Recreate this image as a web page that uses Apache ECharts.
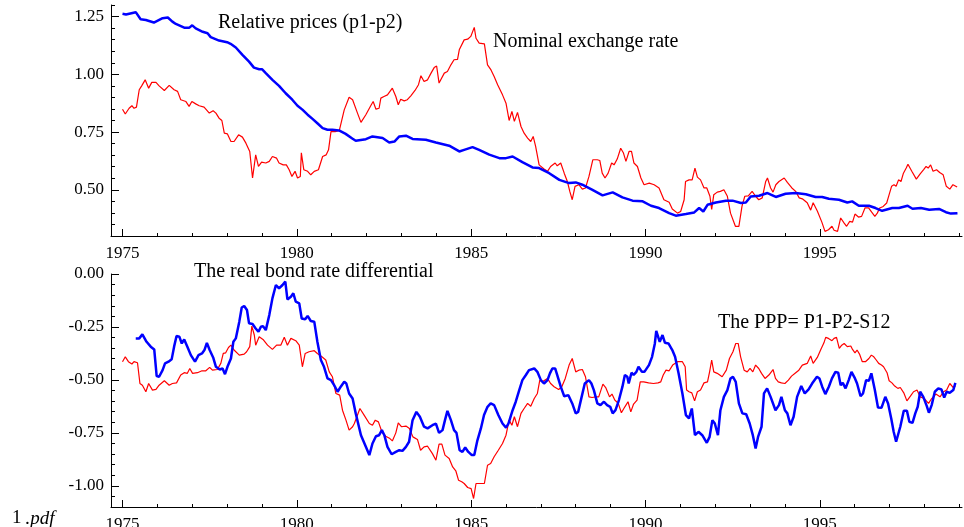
<!DOCTYPE html>
<html>
<head>
<meta charset="utf-8">
<script src="https://cdn.jsdelivr.net/npm/echarts@6/dist/echarts.min.js"></script>
<style>
html,body{margin:0;padding:0;background:#fff;}
#chart{width:964px;height:527px;}
</style>
</head>
<body>
<div id="chart"></div>
<script>
// ---- tick labels ----
var majorYears = [1975, 1980, 1985, 1990, 1995];
var topYLabels = [0.50, 0.75, 1.00, 1.25];
var botYLabels = [-1.00, -0.75, -0.50, -0.25, 0.00];

// ---- series: [year, value] ----
var relPrices = [[1975.00,1.262],[1975.10,1.259],[1975.38,1.269],[1975.52,1.238],[1975.67,1.235],[1975.90,1.224],[1976.15,1.243],[1976.30,1.246],[1976.43,1.228],[1976.53,1.218],[1976.77,1.202],[1976.91,1.201],[1977.00,1.212],[1977.10,1.199],[1977.30,1.184],[1977.44,1.178],[1977.53,1.161],[1977.77,1.146],[1978.00,1.139],[1978.10,1.132],[1978.25,1.116],[1978.44,1.084],[1978.63,1.055],[1978.77,1.029],[1978.92,1.022],[1979.00,1.022],[1979.11,1.005],[1979.30,0.976],[1979.49,0.950],[1979.68,0.918],[1979.87,0.890],[1980.02,0.864],[1980.16,0.847],[1980.31,0.825],[1980.45,0.807],[1980.59,0.788],[1980.74,0.767],[1980.88,0.760],[1981.02,0.760],[1981.21,0.757],[1981.40,0.742],[1981.59,0.722],[1981.69,0.712],[1981.98,0.719],[1982.17,0.731],[1982.46,0.724],[1982.65,0.705],[1982.80,0.709],[1982.94,0.731],[1983.13,0.734],[1983.32,0.720],[1983.70,0.717],[1983.99,0.705],[1984.37,0.691],[1984.66,0.666],[1984.80,0.673],[1985.04,0.685],[1985.23,0.673],[1985.52,0.652],[1985.81,0.637],[1986.00,0.637],[1986.19,0.644],[1986.47,0.620],[1986.76,0.597],[1986.95,0.594],[1987.24,0.572],[1987.53,0.543],[1987.81,0.529],[1988.00,0.532],[1988.19,0.522],[1988.48,0.500],[1988.77,0.476],[1989.06,0.489],[1989.34,0.467],[1989.63,0.453],[1989.92,0.450],[1990.16,0.431],[1990.39,0.421],[1990.68,0.399],[1990.87,0.388],[1991.16,0.395],[1991.40,0.402],[1991.54,0.421],[1991.66,0.406],[1991.78,0.435],[1992.02,0.445],[1992.31,0.453],[1992.50,0.453],[1992.74,0.443],[1992.88,0.445],[1993.02,0.471],[1993.26,0.474],[1993.50,0.486],[1993.74,0.469],[1994.02,0.483],[1994.31,0.486],[1994.60,0.481],[1994.88,0.469],[1995.07,0.469],[1995.26,0.461],[1995.55,0.457],[1995.79,0.445],[1995.93,0.450],[1996.12,0.431],[1996.41,0.431],[1996.60,0.421],[1996.79,0.409],[1997.08,0.421],[1997.27,0.421],[1997.52,0.431],[1997.66,0.418],[1997.90,0.421],[1998.14,0.414],[1998.42,0.417],[1998.62,0.403],[1998.76,0.397],[1998.95,0.399]];

var nominalRate = [[1975.00,0.849],[1975.08,0.828],[1975.19,0.853],[1975.27,0.864],[1975.33,0.853],[1975.40,0.858],[1975.48,0.933],[1975.55,0.950],[1975.65,0.976],[1975.75,0.940],[1975.84,0.965],[1975.96,0.965],[1976.05,0.950],[1976.20,0.930],[1976.34,0.952],[1976.48,0.933],[1976.58,0.926],[1976.67,0.890],[1976.82,0.882],[1976.91,0.861],[1976.99,0.882],[1977.10,0.872],[1977.20,0.864],[1977.34,0.858],[1977.49,0.832],[1977.60,0.842],[1977.68,0.832],[1977.77,0.810],[1977.85,0.800],[1977.92,0.745],[1978.01,0.742],[1978.11,0.709],[1978.20,0.709],[1978.33,0.738],[1978.44,0.728],[1978.54,0.702],[1978.65,0.666],[1978.73,0.551],[1978.82,0.651],[1978.90,0.601],[1978.99,0.620],[1979.11,0.616],[1979.21,0.623],[1979.30,0.644],[1979.42,0.637],[1979.49,0.616],[1979.61,0.608],[1979.70,0.608],[1979.78,0.587],[1979.86,0.558],[1979.95,0.580],[1980.02,0.551],[1980.10,0.558],[1980.13,0.660],[1980.20,0.587],[1980.31,0.580],[1980.40,0.565],[1980.50,0.580],[1980.62,0.587],[1980.74,0.644],[1980.84,0.651],[1980.91,0.673],[1980.98,0.752],[1981.10,0.752],[1981.15,0.745],[1981.22,0.757],[1981.36,0.846],[1981.50,0.901],[1981.60,0.890],[1981.74,0.832],[1981.84,0.792],[1981.98,0.825],[1982.12,0.864],[1982.19,0.882],[1982.27,0.849],[1982.36,0.853],[1982.41,0.897],[1982.50,0.904],[1982.60,0.911],[1982.74,0.940],[1982.84,0.904],[1982.91,0.868],[1982.98,0.892],[1983.08,0.885],[1983.17,0.890],[1983.27,0.907],[1983.39,0.930],[1983.49,0.955],[1983.56,0.994],[1983.65,0.969],[1983.75,0.976],[1983.85,1.005],[1983.94,1.029],[1984.01,1.036],[1984.08,0.962],[1984.23,1.005],[1984.32,1.012],[1984.42,1.041],[1984.51,1.063],[1984.61,1.065],[1984.66,1.106],[1984.80,1.149],[1984.90,1.152],[1984.99,1.164],[1985.09,1.203],[1985.14,1.156],[1985.23,1.135],[1985.38,1.132],[1985.47,1.041],[1985.57,1.019],[1985.66,0.990],[1985.76,0.955],[1985.90,0.911],[1986.00,0.875],[1986.09,0.800],[1986.17,0.839],[1986.24,0.796],[1986.33,0.835],[1986.43,0.774],[1986.52,0.745],[1986.62,0.724],[1986.71,0.709],[1986.78,0.731],[1986.85,0.688],[1986.95,0.608],[1987.00,0.601],[1987.09,0.590],[1987.19,0.580],[1987.28,0.601],[1987.41,0.616],[1987.47,0.604],[1987.57,0.616],[1987.67,0.572],[1987.76,0.536],[1987.83,0.493],[1987.90,0.457],[1987.98,0.515],[1988.09,0.522],[1988.19,0.503],[1988.28,0.508],[1988.38,0.558],[1988.49,0.630],[1988.62,0.630],[1988.69,0.627],[1988.76,0.572],[1988.84,0.551],[1988.93,0.572],[1989.03,0.616],[1989.10,0.608],[1989.19,0.633],[1989.29,0.680],[1989.37,0.659],[1989.44,0.623],[1989.53,0.666],[1989.60,0.666],[1989.67,0.616],[1989.77,0.601],[1989.87,0.551],[1989.96,0.522],[1990.11,0.529],[1990.25,0.522],[1990.39,0.508],[1990.53,0.457],[1990.68,0.446],[1990.77,0.417],[1990.92,0.399],[1991.01,0.406],[1991.11,0.457],[1991.15,0.536],[1991.25,0.543],[1991.34,0.543],[1991.42,0.594],[1991.49,0.555],[1991.58,0.543],[1991.68,0.508],[1991.76,0.508],[1991.85,0.472],[1991.90,0.415],[1991.96,0.479],[1992.06,0.490],[1992.15,0.493],[1992.25,0.500],[1992.35,0.472],[1992.44,0.399],[1992.58,0.342],[1992.68,0.342],[1992.77,0.429],[1992.85,0.472],[1992.95,0.474],[1993.06,0.493],[1993.16,0.472],[1993.25,0.457],[1993.35,0.465],[1993.45,0.536],[1993.50,0.551],[1993.59,0.508],[1993.66,0.490],[1993.74,0.522],[1993.83,0.536],[1993.98,0.551],[1994.07,0.532],[1994.20,0.508],[1994.31,0.493],[1994.41,0.465],[1994.50,0.461],[1994.64,0.444],[1994.74,0.412],[1994.81,0.444],[1994.93,0.408],[1995.06,0.360],[1995.15,0.320],[1995.25,0.327],[1995.35,0.342],[1995.41,0.325],[1995.51,0.320],[1995.60,0.378],[1995.70,0.356],[1995.77,0.342],[1995.86,0.363],[1995.94,0.360],[1996.01,0.395],[1996.11,0.382],[1996.20,0.385],[1996.30,0.422],[1996.40,0.422],[1996.49,0.403],[1996.58,0.385],[1996.65,0.399],[1996.72,0.421],[1996.82,0.428],[1996.92,0.443],[1996.99,0.479],[1997.06,0.515],[1997.13,0.522],[1997.19,0.515],[1997.26,0.543],[1997.33,0.536],[1997.40,0.572],[1997.48,0.594],[1997.53,0.611],[1997.64,0.580],[1997.77,0.546],[1997.88,0.569],[1997.98,0.587],[1998.05,0.601],[1998.11,0.594],[1998.18,0.608],[1998.25,0.580],[1998.35,0.587],[1998.44,0.575],[1998.54,0.565],[1998.63,0.515],[1998.73,0.503],[1998.82,0.522],[1998.94,0.512]];

var bondDiff = [[1975.38,-0.304],[1975.48,-0.304],[1975.57,-0.285],[1975.69,-0.320],[1975.81,-0.343],[1975.91,-0.356],[1975.98,-0.482],[1976.05,-0.485],[1976.15,-0.454],[1976.22,-0.422],[1976.32,-0.414],[1976.41,-0.403],[1976.48,-0.343],[1976.55,-0.293],[1976.63,-0.296],[1976.70,-0.328],[1976.77,-0.309],[1976.86,-0.343],[1976.96,-0.383],[1977.08,-0.414],[1977.18,-0.383],[1977.28,-0.375],[1977.35,-0.359],[1977.42,-0.325],[1977.50,-0.359],[1977.60,-0.394],[1977.68,-0.438],[1977.79,-0.451],[1977.87,-0.446],[1977.94,-0.473],[1978.01,-0.438],[1978.11,-0.399],[1978.18,-0.320],[1978.25,-0.304],[1978.35,-0.225],[1978.42,-0.158],[1978.49,-0.151],[1978.57,-0.170],[1978.63,-0.233],[1978.73,-0.236],[1978.82,-0.257],[1978.90,-0.273],[1978.97,-0.249],[1979.03,-0.246],[1979.11,-0.265],[1979.21,-0.194],[1979.30,-0.115],[1979.40,-0.052],[1979.49,-0.068],[1979.59,-0.052],[1979.67,-0.036],[1979.73,-0.120],[1979.83,-0.107],[1979.90,-0.091],[1979.97,-0.131],[1980.07,-0.139],[1980.14,-0.210],[1980.24,-0.214],[1980.31,-0.198],[1980.40,-0.222],[1980.50,-0.225],[1980.59,-0.320],[1980.69,-0.406],[1980.78,-0.438],[1980.88,-0.493],[1980.98,-0.501],[1981.07,-0.525],[1981.17,-0.556],[1981.26,-0.532],[1981.36,-0.509],[1981.42,-0.517],[1981.50,-0.564],[1981.60,-0.588],[1981.69,-0.658],[1981.84,-0.761],[1981.98,-0.816],[1982.08,-0.855],[1982.17,-0.800],[1982.27,-0.766],[1982.36,-0.761],[1982.44,-0.737],[1982.51,-0.761],[1982.60,-0.816],[1982.72,-0.851],[1982.84,-0.840],[1982.94,-0.832],[1983.03,-0.835],[1983.13,-0.816],[1983.22,-0.792],[1983.32,-0.690],[1983.43,-0.651],[1983.53,-0.674],[1983.65,-0.721],[1983.75,-0.729],[1983.89,-0.714],[1983.99,-0.706],[1984.08,-0.750],[1984.18,-0.737],[1984.25,-0.690],[1984.32,-0.646],[1984.42,-0.690],[1984.51,-0.737],[1984.58,-0.750],[1984.67,-0.832],[1984.75,-0.840],[1984.83,-0.819],[1984.92,-0.840],[1985.02,-0.855],[1985.09,-0.855],[1985.18,-0.785],[1985.28,-0.729],[1985.37,-0.666],[1985.47,-0.627],[1985.56,-0.611],[1985.66,-0.619],[1985.78,-0.666],[1985.90,-0.706],[1986.00,-0.725],[1986.07,-0.706],[1986.19,-0.643],[1986.28,-0.603],[1986.38,-0.548],[1986.47,-0.501],[1986.57,-0.477],[1986.66,-0.454],[1986.81,-0.446],[1986.90,-0.462],[1987.00,-0.501],[1987.09,-0.517],[1987.19,-0.501],[1987.26,-0.469],[1987.33,-0.446],[1987.41,-0.446],[1987.47,-0.477],[1987.57,-0.532],[1987.67,-0.577],[1987.79,-0.572],[1987.90,-0.611],[1988.00,-0.658],[1988.07,-0.651],[1988.17,-0.580],[1988.26,-0.517],[1988.38,-0.501],[1988.45,-0.517],[1988.52,-0.548],[1988.62,-0.611],[1988.71,-0.619],[1988.81,-0.603],[1988.90,-0.619],[1988.99,-0.627],[1989.06,-0.658],[1989.14,-0.643],[1989.24,-0.595],[1989.34,-0.532],[1989.41,-0.477],[1989.48,-0.485],[1989.52,-0.517],[1989.60,-0.466],[1989.66,-0.477],[1989.74,-0.462],[1989.80,-0.438],[1989.90,-0.462],[1989.97,-0.462],[1990.10,-0.430],[1990.19,-0.391],[1990.27,-0.328],[1990.31,-0.268],[1990.41,-0.320],[1990.49,-0.288],[1990.56,-0.325],[1990.66,-0.328],[1990.77,-0.359],[1990.85,-0.391],[1990.95,-0.469],[1991.06,-0.564],[1991.16,-0.666],[1991.25,-0.682],[1991.33,-0.635],[1991.42,-0.761],[1991.52,-0.745],[1991.63,-0.761],[1991.76,-0.797],[1991.84,-0.769],[1991.92,-0.690],[1991.99,-0.706],[1992.08,-0.761],[1992.15,-0.643],[1992.25,-0.580],[1992.35,-0.548],[1992.44,-0.493],[1992.51,-0.485],[1992.59,-0.509],[1992.68,-0.611],[1992.78,-0.658],[1992.89,-0.662],[1992.99,-0.706],[1993.08,-0.761],[1993.16,-0.824],[1993.23,-0.769],[1993.33,-0.721],[1993.40,-0.564],[1993.49,-0.540],[1993.59,-0.580],[1993.73,-0.643],[1993.83,-0.619],[1993.90,-0.580],[1994.00,-0.643],[1994.07,-0.658],[1994.16,-0.714],[1994.25,-0.674],[1994.35,-0.580],[1994.47,-0.529],[1994.57,-0.564],[1994.68,-0.545],[1994.78,-0.517],[1994.92,-0.485],[1994.99,-0.493],[1995.07,-0.532],[1995.16,-0.567],[1995.26,-0.532],[1995.35,-0.493],[1995.45,-0.462],[1995.53,-0.466],[1995.60,-0.525],[1995.66,-0.514],[1995.74,-0.540],[1995.83,-0.501],[1995.91,-0.462],[1996.01,-0.493],[1996.07,-0.517],[1996.17,-0.577],[1996.24,-0.564],[1996.33,-0.501],[1996.41,-0.504],[1996.48,-0.469],[1996.58,-0.548],[1996.67,-0.630],[1996.77,-0.632],[1996.88,-0.580],[1996.96,-0.611],[1997.05,-0.682],[1997.12,-0.745],[1997.19,-0.792],[1997.24,-0.800],[1997.31,-0.721],[1997.41,-0.646],[1997.50,-0.646],[1997.57,-0.698],[1997.66,-0.703],[1997.74,-0.658],[1997.81,-0.627],[1997.88,-0.556],[1997.97,-0.580],[1998.07,-0.624],[1998.13,-0.655],[1998.21,-0.619],[1998.30,-0.556],[1998.40,-0.540],[1998.49,-0.545],[1998.57,-0.583],[1998.64,-0.556],[1998.73,-0.561],[1998.83,-0.548],[1998.89,-0.514]];

var pppGap = [[1975.00,-0.414],[1975.08,-0.391],[1975.17,-0.414],[1975.27,-0.425],[1975.33,-0.414],[1975.43,-0.419],[1975.50,-0.517],[1975.57,-0.525],[1975.67,-0.556],[1975.75,-0.517],[1975.86,-0.548],[1975.96,-0.545],[1976.05,-0.525],[1976.20,-0.504],[1976.24,-0.501],[1976.34,-0.525],[1976.43,-0.517],[1976.55,-0.514],[1976.67,-0.477],[1976.77,-0.466],[1976.86,-0.469],[1976.93,-0.446],[1977.01,-0.469],[1977.15,-0.466],[1977.28,-0.457],[1977.39,-0.457],[1977.50,-0.441],[1977.58,-0.454],[1977.72,-0.451],[1977.82,-0.422],[1977.89,-0.375],[1977.96,-0.372],[1978.04,-0.347],[1978.11,-0.336],[1978.20,-0.359],[1978.35,-0.383],[1978.49,-0.378],[1978.56,-0.367],[1978.65,-0.343],[1978.71,-0.246],[1978.78,-0.288],[1978.82,-0.336],[1978.92,-0.296],[1979.03,-0.309],[1979.16,-0.336],[1979.30,-0.356],[1979.42,-0.336],[1979.54,-0.336],[1979.64,-0.299],[1979.73,-0.336],[1979.83,-0.304],[1979.97,-0.315],[1980.07,-0.336],[1980.16,-0.438],[1980.24,-0.375],[1980.35,-0.367],[1980.50,-0.362],[1980.59,-0.375],[1980.72,-0.391],[1980.83,-0.406],[1980.93,-0.462],[1981.02,-0.485],[1981.12,-0.564],[1981.23,-0.572],[1981.31,-0.643],[1981.41,-0.690],[1981.50,-0.737],[1981.60,-0.721],[1981.65,-0.706],[1981.81,-0.635],[1981.93,-0.666],[1982.08,-0.706],[1982.17,-0.714],[1982.25,-0.690],[1982.34,-0.698],[1982.44,-0.745],[1982.55,-0.766],[1982.67,-0.777],[1982.74,-0.788],[1982.84,-0.750],[1982.91,-0.703],[1983.00,-0.721],[1983.13,-0.718],[1983.23,-0.729],[1983.33,-0.769],[1983.46,-0.781],[1983.55,-0.832],[1983.65,-0.816],[1983.75,-0.813],[1983.89,-0.848],[1983.99,-0.879],[1984.08,-0.803],[1984.16,-0.803],[1984.25,-0.855],[1984.37,-0.871],[1984.47,-0.911],[1984.56,-0.929],[1984.64,-0.974],[1984.73,-0.981],[1984.80,-0.989],[1984.90,-1.008],[1985.00,-1.013],[1985.07,-1.060],[1985.14,-0.989],[1985.23,-0.989],[1985.38,-0.989],[1985.47,-0.903],[1985.56,-0.895],[1985.66,-0.863],[1985.78,-0.832],[1985.90,-0.800],[1986.00,-0.761],[1986.09,-0.690],[1986.17,-0.714],[1986.24,-0.674],[1986.33,-0.721],[1986.43,-0.658],[1986.52,-0.635],[1986.62,-0.611],[1986.71,-0.624],[1986.81,-0.588],[1986.90,-0.564],[1986.97,-0.501],[1987.04,-0.509],[1987.19,-0.493],[1987.28,-0.517],[1987.38,-0.532],[1987.51,-0.545],[1987.60,-0.532],[1987.70,-0.493],[1987.81,-0.430],[1987.90,-0.399],[1988.00,-0.462],[1988.09,-0.454],[1988.19,-0.451],[1988.28,-0.485],[1988.38,-0.580],[1988.47,-0.583],[1988.57,-0.580],[1988.66,-0.580],[1988.78,-0.520],[1988.86,-0.536],[1988.97,-0.580],[1989.04,-0.567],[1989.12,-0.595],[1989.22,-0.611],[1989.31,-0.655],[1989.41,-0.627],[1989.50,-0.603],[1989.58,-0.651],[1989.66,-0.614],[1989.76,-0.595],[1989.85,-0.509],[1989.95,-0.509],[1990.09,-0.514],[1990.23,-0.517],[1990.36,-0.514],[1990.44,-0.509],[1990.51,-0.477],[1990.59,-0.454],[1990.68,-0.457],[1990.78,-0.430],[1990.92,-0.414],[1991.06,-0.414],[1991.14,-0.438],[1991.18,-0.548],[1991.25,-0.556],[1991.33,-0.561],[1991.41,-0.599],[1991.49,-0.556],[1991.58,-0.548],[1991.68,-0.514],[1991.78,-0.509],[1991.84,-0.462],[1991.90,-0.406],[1991.96,-0.462],[1992.06,-0.469],[1992.20,-0.485],[1992.32,-0.454],[1992.41,-0.399],[1992.51,-0.367],[1992.59,-0.328],[1992.66,-0.328],[1992.73,-0.391],[1992.83,-0.454],[1992.92,-0.462],[1993.00,-0.446],[1993.08,-0.462],[1993.16,-0.430],[1993.25,-0.446],[1993.33,-0.469],[1993.43,-0.493],[1993.54,-0.477],[1993.66,-0.451],[1993.73,-0.493],[1993.81,-0.509],[1993.90,-0.514],[1994.00,-0.517],[1994.10,-0.501],[1994.19,-0.482],[1994.31,-0.466],[1994.40,-0.454],[1994.50,-0.430],[1994.64,-0.422],[1994.74,-0.387],[1994.81,-0.422],[1994.93,-0.394],[1995.03,-0.356],[1995.12,-0.325],[1995.17,-0.299],[1995.25,-0.304],[1995.35,-0.315],[1995.41,-0.304],[1995.48,-0.299],[1995.56,-0.351],[1995.63,-0.336],[1995.70,-0.328],[1995.79,-0.343],[1995.89,-0.340],[1995.94,-0.356],[1996.01,-0.372],[1996.07,-0.359],[1996.14,-0.378],[1996.22,-0.414],[1996.31,-0.414],[1996.41,-0.399],[1996.48,-0.383],[1996.55,-0.391],[1996.62,-0.406],[1996.69,-0.422],[1996.77,-0.430],[1996.83,-0.438],[1996.93,-0.466],[1996.99,-0.504],[1997.07,-0.514],[1997.15,-0.529],[1997.24,-0.540],[1997.31,-0.536],[1997.41,-0.561],[1997.50,-0.599],[1997.60,-0.577],[1997.69,-0.556],[1997.79,-0.548],[1997.88,-0.580],[1998.00,-0.588],[1998.12,-0.611],[1998.21,-0.588],[1998.33,-0.567],[1998.45,-0.580],[1998.55,-0.556],[1998.64,-0.548],[1998.73,-0.517],[1998.83,-0.536],[1998.89,-0.529]];

// ---- helpers for tick positions ----
function range(a, b, step) { var out = []; var n = Math.round((b - a) / step); for (var i = 0; i <= n; i++) out.push(+(a + i * step).toFixed(4)); return out; }
var minorYears = range(1975, 1999, 1);
var topMinorY = range(0.30, 1.30, 0.05);
var botMinorY = range(-1.10, 0.00, 0.05);

var FONT = 'Liberation Serif';
var X_MIN = 1974.67, X_MAX = 1999.08;

function xAxisPair(gridIndex, labelMargin) {
  return [
    { type: 'value', gridIndex: gridIndex, position: 'bottom', min: X_MIN, max: X_MAX,
      axisLine: { show: true, onZero: false, lineStyle: { color: '#000', width: 1 } },
      axisTick: { show: true, inside: true, length: 3, customValues: minorYears, lineStyle: { color: '#000' } },
      axisLabel: { show: true, customValues: majorYears, margin: labelMargin, color: '#000', fontFamily: FONT, fontSize: 17,
        formatter: function (v) { return String(Math.round(v)); } },
      splitLine: { show: false } },
    { type: 'value', gridIndex: gridIndex, position: 'bottom', min: X_MIN, max: X_MAX,
      axisLine: { show: false, onZero: false },
      axisTick: { show: true, inside: true, length: 7, customValues: majorYears, lineStyle: { color: '#000' } },
      axisLabel: { show: false }, splitLine: { show: false } }
  ];
}
function yAxisPair(gridIndex, mn, mx, minorVals, majorVals) {
  return [
    { type: 'value', gridIndex: gridIndex, position: 'left', min: mn, max: mx,
      axisLine: { show: true, onZero: false, lineStyle: { color: '#000', width: 1 } },
      axisTick: { show: true, inside: true, length: 4, customValues: minorVals, lineStyle: { color: '#000' } },
      axisLabel: { show: false }, splitLine: { show: false } },
    { type: 'value', gridIndex: gridIndex, position: 'left', min: mn, max: mx,
      axisLine: { show: false, onZero: false },
      axisTick: { show: true, inside: true, length: 8, customValues: majorVals, lineStyle: { color: '#000' } },
      axisLabel: { show: true, customValues: majorVals, margin: 7, color: '#000', fontFamily: FONT, fontSize: 17,
        formatter: function (v) { var s = v.toFixed(2); return s === '-0.00' ? '0.00' : s; } },
      splitLine: { show: false } }
  ];
}

var chart = echarts.init(document.getElementById('chart'), null, { renderer: 'canvas' });
var option = {
  animation: false,
  backgroundColor: '#fff',
  grid: [
    { left: 111, right: 2, top: 5, height: 231, containLabel: false, outerBoundsMode: 'none' },
    { left: 111, right: 2, top: 274, height: 233, containLabel: false, outerBoundsMode: 'none' }
  ],
  xAxis: xAxisPair(0, 9).concat(xAxisPair(1, 9)),
  yAxis: yAxisPair(0, 0.30, 1.30, topMinorY, topYLabels).concat(yAxisPair(1, -1.10, 0.00, botMinorY, botYLabels)),
  series: [
    { name: 'Nominal exchange rate', type: 'line', xAxisIndex: 0, yAxisIndex: 0, data: nominalRate,
      showSymbol: false, symbol: 'none', lineStyle: { color: '#ff0000', width: 1.2 }, z: 2 },
    { name: 'Relative prices (p1-p2)', type: 'line', xAxisIndex: 0, yAxisIndex: 0, data: relPrices,
      showSymbol: false, symbol: 'none', lineStyle: { color: '#0000ff', width: 2.5 }, z: 3 },
    { name: 'The PPP= P1-P2-S12', type: 'line', xAxisIndex: 2, yAxisIndex: 2, data: pppGap,
      showSymbol: false, symbol: 'none', lineStyle: { color: '#ff0000', width: 1.2 }, z: 2 },
    { name: 'The real bond rate differential', type: 'line', xAxisIndex: 2, yAxisIndex: 2, data: bondDiff,
      showSymbol: false, symbol: 'none', lineStyle: { color: '#0000ff', width: 2.5 }, z: 3 }
  ],
  graphic: [
    { type: 'text', left: 218, top: 13, style: { text: 'Relative prices (p1-p2)', fill: '#000', font: '20px "Liberation Serif"' } },
    { type: 'text', left: 493, top: 32, style: { text: 'Nominal exchange rate', fill: '#000', font: '20px "Liberation Serif"' } },
    { type: 'text', left: 194, top: 262, style: { text: 'The real bond rate differential', fill: '#000', font: '20px "Liberation Serif"' } },
    { type: 'text', left: 718, top: 313, style: { text: 'The PPP= P1-P2-S12', fill: '#000', font: '20px "Liberation Serif"' } },
    { type: 'text', left: 12, top: 509, style: {
        text: '{a|1}{b|.pdf}', fill: '#000',
        rich: { a: { fontFamily: FONT, fontSize: 19, fill: '#000' }, b: { fontFamily: FONT, fontSize: 19, fontStyle: 'italic', fill: '#000', padding: [0, 0, 0, 4] } } } }
  ]
};
chart.setOption(option);
</script>
</body>
</html>
